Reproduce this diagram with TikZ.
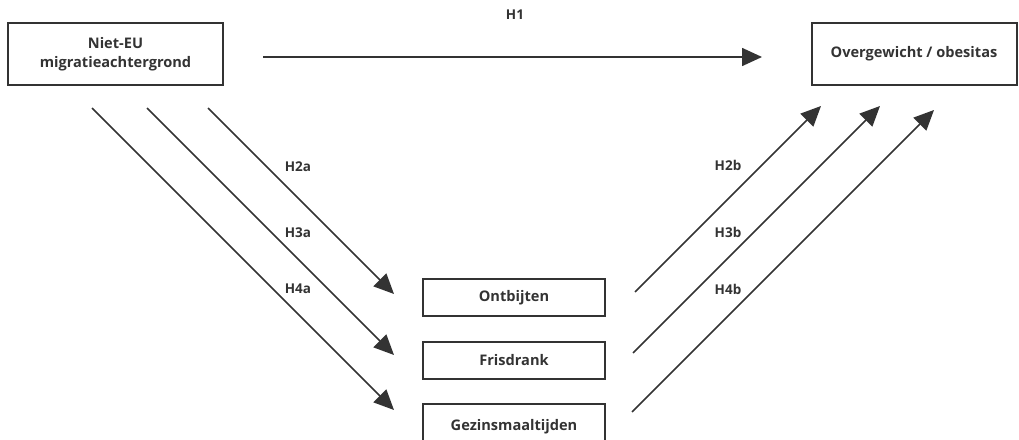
\documentclass[tikz,border=0pt]{standalone}
\usepackage{fontspec}
\setmainfont{Open Sans}
\usetikzlibrary{arrows.meta}
\definecolor{ink}{RGB}{51,51,51}

\begin{document}
\begin{tikzpicture}[x=1pt,y=-1pt,
  box/.style={draw=ink,line width=2pt,minimum height=37pt,align=center,text=ink,font=\fontsize{14.6}{19.5}\selectfont\bfseries},
  lab/.style={text=ink,font=\fontsize{13.5}{16}\selectfont\bfseries},
  pijl/.style={draw=ink,line width=1.6pt,-{Triangle[length=20pt,width=18pt]}}]
\useasboundingbox (0,0) rectangle (1019,439);
\node[box,minimum width=215pt,minimum height=62pt] (niet) at (115.5,54) {Niet-EU\\migratieachtergrond};
\node[box,minimum width=205pt,minimum height=62pt] (over) at (914,54) {Overgewicht / obesitas};
\node[box,minimum width=182pt] (ontb) at (514,297.5) {Ontbijten};
\node[box,minimum width=182pt] (fris) at (514,360) {Frisdrank};
\node[box,minimum width=182pt,minimum height=46pt] (gezin) at (514,427) {Gezinsmaaltijden};
% start and end points of the paths
\coordinate (h1s) at (263,57);
\coordinate (h1e) at (762,57);
\coordinate (h2as) at (208,108);
\coordinate (h2ae) at (394,294);
\coordinate (h3as) at (147,108);
\coordinate (h3ae) at (394,355);
\coordinate (h4as) at (92,108);
\coordinate (h4ae) at (394,410);
\coordinate (h2bs) at (635,292);
\coordinate (h2be) at (821,106);
\coordinate (h3bs) at (633,353);
\coordinate (h3be) at (880,106);
\coordinate (h4bs) at (632,412);
\coordinate (h4be) at (934,110);
\draw[pijl] (h1s) -- (h1e);
\draw[pijl] (h2as) -- (h2ae);
\draw[pijl] (h3as) -- (h3ae);
\draw[pijl] (h4as) -- (h4ae);
\draw[pijl] (h2bs) -- (h2be);
\draw[pijl] (h3bs) -- (h3be);
\draw[pijl] (h4bs) -- (h4be);
\node[lab] (l1) at (515,15) {H1};
\node[lab] (l2a) at (298,167) {H2a};
\node[lab] (l3a) at (298,233) {H3a};
\node[lab] (l4a) at (298,289) {H4a};
\node[lab] (l2b) at (728,165) {H2b};
\node[lab] (l3b) at (728,232) {H3b};
\node[lab] (l4b) at (728,289) {H4b};
\end{tikzpicture}
\end{document}
